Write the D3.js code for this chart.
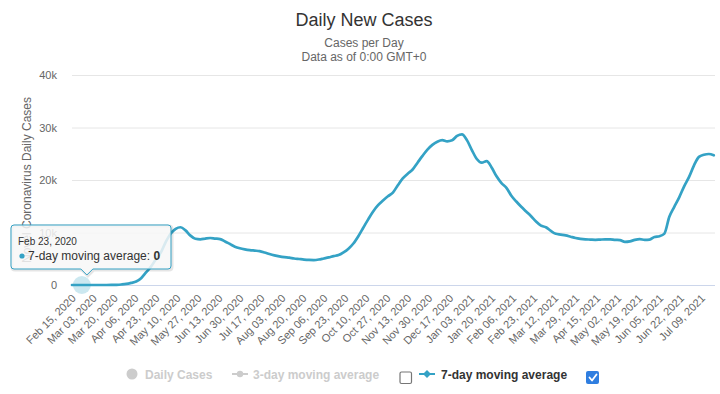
<!DOCTYPE html>
<html>
<head>
<meta charset="utf-8">
<script src="https://cdn.jsdelivr.net/npm/d3@7"></script>
<style>
  html, body { margin: 0; padding: 0; background: #fff; }
  svg { display: block; font-family: "Liberation Sans", Arial, Helvetica, sans-serif; }
</style>
</head>
<body>
<svg id="chart" width="720" height="394"></svg>
<script>
// ---------- DATA ----------
const titleText = "Daily New Cases";
const subtitleLines = ["Cases per Day", "Data as of 0:00 GMT+0"];
const yAxisTitle = "Novel Coronavirus Daily Cases";
const yTicks = [0, 10000, 20000, 30000, 40000];
const yTickLabels = ["0", "10k", "20k", "30k", "40k"];
const xTickLabels = [
  "Feb 15, 2020", "Mar 03, 2020", "Mar 20, 2020", "Apr 06, 2020", "Apr 23, 2020",
  "May 10, 2020", "May 27, 2020", "Jun 13, 2020", "Jun 30, 2020", "Jul 17, 2020",
  "Aug 03, 2020", "Aug 20, 2020", "Sep 06, 2020", "Sep 23, 2020", "Oct 10, 2020",
  "Oct 27, 2020", "Nov 13, 2020", "Nov 30, 2020", "Dec 17, 2020", "Jan 03, 2021",
  "Jan 20, 2021", "Feb 06, 2021", "Feb 23, 2021", "Mar 12, 2021", "Mar 29, 2021",
  "Apr 15, 2021", "May 02, 2021", "May 19, 2021", "Jun 05, 2021", "Jun 22, 2021",
  "Jul 09, 2021"
];
const firstDate = "2020-02-15";
const lastDate = "2021-07-20";
const sampleStepDays = 4; // one reading every 4 days starting at firstDate
const movingAvg7 = [
  0, 0, 0, 0, 0, 0, 0, 0, 10, 40, 100, 200, 400, 650, 1300, 2400, 3500, 4900, 6200, 8200,
  9800, 10700, 11000, 10400, 9400, 8800, 8700, 8850, 8950, 8850, 8750, 8300, 7800, 7300, 7000, 6800,
  6650, 6550, 6450, 6200, 5900, 5650, 5450, 5300, 5200, 5050, 4950, 4850, 4780, 4750, 4850, 5050,
  5250, 5500, 5700, 6200, 6900, 7900, 9300, 10900, 12500, 14000, 15200, 16100, 16900, 17600, 19000, 20300,
  21200, 22000, 23300, 24600, 25800, 26700, 27300, 27600, 27350, 27550, 28400, 28700, 27600, 25700, 24000, 23300,
  23600, 22400, 20700, 19400, 18500, 17000, 15900, 14900, 14000, 13100, 12100, 11300, 11000, 10300, 9750, 9600,
  9450, 9200, 8950, 8800, 8700, 8650, 8600, 8650, 8700, 8700, 8600, 8550, 8200, 8300, 8600, 8750,
  8600, 8650, 9150, 9300, 9800, 13000, 14900, 16700, 18800, 20600, 22800, 24400, 24800, 24950, 24700
];
const tooltipDateLabel = "Feb 23, 2020";
const legendItems = [
  { name: "Daily Cases", symbol: "circle", active: false },
  { name: "3-day moving average", symbol: "linemarker", active: false },
  { name: "7-day moving average", symbol: "linediamond", active: true }
];

// ---------- STYLE / LAYOUT ----------
const W = 720, H = 394;
const margin = { left: 72, right: 5, top: 75, bottom: 109 };
const lineColor = "#34a2c5";
const svg = d3.select("#chart");
const parseISO = d3.utcParse("%Y-%m-%d");
const parseLabel = d3.utcParse("%b %d, %Y");
const fmtLabel = d3.utcFormat("%b %d, %Y");

const start = parseISO(firstDate);
const series = movingAvg7.map((v, i) => ({ date: d3.utcDay.offset(start, i * sampleStepDays), value: v }));

const x = d3.scaleUtc()
  .domain([start, parseISO(lastDate)])
  .range([margin.left, W - margin.right]);
const y = d3.scaleLinear()
  .domain([0, 40000])
  .range([H - margin.bottom, margin.top]);

// Title & subtitle
svg.append("text").attr("x", 364).attr("y", 26).attr("text-anchor", "middle")
  .attr("font-size", 18).attr("fill", "#333").text(titleText);
subtitleLines.forEach((t, i) => {
  svg.append("text").attr("x", 364).attr("y", 47 + i * 14).attr("text-anchor", "middle")
    .attr("font-size", 12).attr("fill", "#666").text(t);
});

// Grid lines (y axis)
const yAxis = d3.axisLeft(y).tickValues(yTicks)
  .tickSize(-(W - margin.left - margin.right))
  .tickFormat((d, i) => yTickLabels[i]);
const gy = svg.append("g").attr("transform", `translate(${margin.left},0)`).call(yAxis);
gy.select(".domain").remove();
gy.selectAll(".tick line").attr("stroke", "#e6e6e6").attr("stroke-width", 1);
gy.selectAll(".tick text").attr("x", -15).attr("dy", "0.32em")
  .attr("font-size", 11).attr("fill", "#666").attr("font-family", "Liberation Sans, Arial, sans-serif");

// X axis line
svg.append("line")
  .attr("x1", margin.left).attr("x2", W - margin.right)
  .attr("y1", y(0) + 0.5).attr("y2", y(0) + 0.5)
  .attr("stroke", "#ccd6eb").attr("stroke-width", 1);

// X axis labels (rotated)
const xTickDates = xTickLabels.map(parseLabel);
const xAxis = d3.axisBottom(x).tickValues(xTickDates).tickSize(0).tickFormat(fmtLabel);
const gx = svg.append("g").attr("transform", `translate(0,${y(0)})`).call(xAxis);
gx.select(".domain").remove();
gx.selectAll(".tick text")
  .attr("text-anchor", "end")
  .attr("font-size", 11).attr("fill", "#666")
  .attr("font-family", "Liberation Sans, Arial, sans-serif")
  .attr("x", 0).attr("y", 0).attr("dy", 0)
  .attr("transform", "translate(4,14) rotate(-45)");

// Y axis title
svg.append("text")
  .attr("transform", `translate(31,${(margin.top + y(0)) / 2}) rotate(-90)`)
  .attr("text-anchor", "middle").attr("font-size", 12).attr("fill", "#666")
  .text(yAxisTitle);

// Line
const line = d3.line().x(d => x(d.date)).y(d => y(d.value)).curve(d3.curveMonotoneX);
svg.append("path").datum(series)
  .attr("fill", "none").attr("stroke", lineColor).attr("stroke-width", 2.7)
  .attr("stroke-linejoin", "round").attr("stroke-linecap", "round")
  .attr("d", line);

// Hover halo
const hoverDate = parseLabel(tooltipDateLabel);
const hoverPoint = series.find(d => +d.date === +hoverDate);
svg.append("circle")
  .attr("cx", x(hoverPoint.date)).attr("cy", y(hoverPoint.value))
  .attr("r", 9).attr("fill", lineColor).attr("fill-opacity", 0.25);

// Tooltip
const tt = svg.append("g");
const bx = 11, by = 225, bw = 160, bh = 44;
const tipX = x(hoverPoint.date) + 5;
const tipPath = `M${bx + 3},${by} H${bx + bw - 3} Q${bx + bw},${by} ${bx + bw},${by + 3} V${by + bh - 3} Q${bx + bw},${by + bh} ${bx + bw - 3},${by + bh} H${tipX + 6} L${tipX},${by + bh + 6} L${tipX - 6},${by + bh} H${bx + 3} Q${bx},${by + bh} ${bx},${by + bh - 3} V${by + 3} Q${bx},${by} ${bx + 3},${by} Z`;
tt.append("path").attr("d", tipPath).attr("transform", "translate(1,1)")
  .attr("fill", "none").attr("stroke", "#000").attr("stroke-opacity", 0.1).attr("stroke-width", 3);
tt.append("path").attr("d", tipPath)
  .attr("fill", "#f7f7f7").attr("fill-opacity", 0.85)
  .attr("stroke", lineColor).attr("stroke-width", 1);
tt.append("text").attr("x", 18).attr("y", 245).attr("font-size", 10).attr("fill", "#333")
  .text(tooltipDateLabel);
tt.append("circle").attr("cx", 22).attr("cy", 256).attr("r", 2.6).attr("fill", lineColor);
const t2 = tt.append("text").attr("x", 28).attr("y", 260).attr("font-size", 12).attr("fill", "#333");
t2.append("tspan").text("7-day moving average: ");
t2.append("tspan").attr("font-weight", "bold").text(String(hoverPoint.value));

// Legend
const lg = svg.append("g").attr("font-size", 12).attr("font-weight", "bold");
const ly = 374;
// Daily Cases
lg.append("circle").attr("cx", 132).attr("cy", ly).attr("r", 5.5).attr("fill", "#cccccc");
lg.append("text").attr("x", 145).attr("y", ly + 4.5).attr("fill", "#cccccc").text(legendItems[0].name);
// 3-day
lg.append("line").attr("x1", 232).attr("x2", 248).attr("y1", ly).attr("y2", ly)
  .attr("stroke", "#cccccc").attr("stroke-width", 2);
lg.append("circle").attr("cx", 240).attr("cy", ly).attr("r", 3.2).attr("fill", "#cccccc");
lg.append("text").attr("x", 253).attr("y", ly + 4.5).attr("fill", "#cccccc").text(legendItems[1].name);
// unchecked checkbox
lg.append("rect").attr("x", 400).attr("y", 372).attr("width", 11.5).attr("height", 11.5)
  .attr("rx", 1.5).attr("fill", "#fff").attr("stroke", "#767676").attr("stroke-width", 1.2);
// 7-day
lg.append("line").attr("x1", 419).attr("x2", 435).attr("y1", ly).attr("y2", ly)
  .attr("stroke", lineColor).attr("stroke-width", 2);
lg.append("path").attr("d", `M427,${ly - 4} L431,${ly} L427,${ly + 4} L423,${ly} Z`).attr("fill", lineColor);
lg.append("text").attr("x", 441).attr("y", ly + 4.5).attr("fill", "#333").text(legendItems[2].name);
// checked checkbox
lg.append("rect").attr("x", 586).attr("y", 371).attr("width", 13).attr("height", 13)
  .attr("rx", 2).attr("fill", "#2f7ee0");
lg.append("path").attr("d", "M589.5,377.5 L592,380.5 L596.5,374.5")
  .attr("fill", "none").attr("stroke", "#fff").attr("stroke-width", 1.8)
  .attr("stroke-linecap", "round").attr("stroke-linejoin", "round");
</script>
</body>
</html>
